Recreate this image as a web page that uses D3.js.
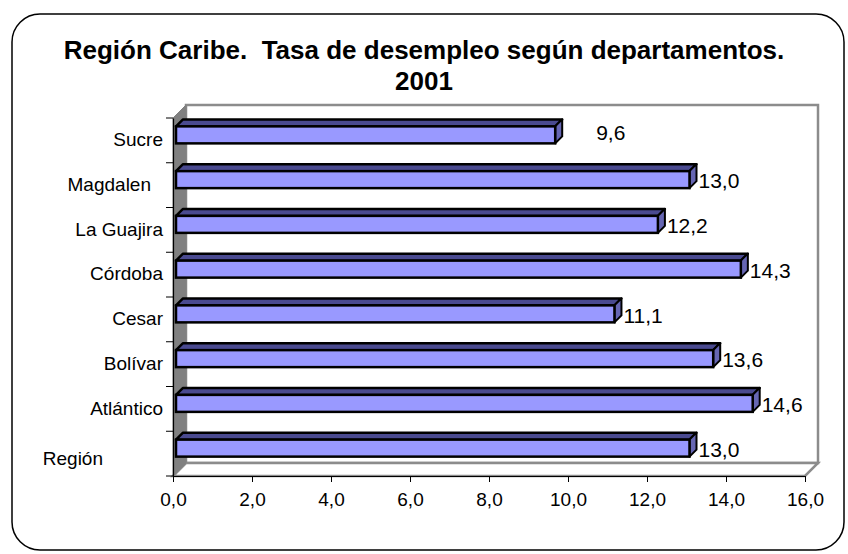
<!DOCTYPE html>
<html>
<head>
<meta charset="utf-8">
<script src="https://cdn.jsdelivr.net/npm/d3@7"></script>
<style>
  body { margin: 0; background: #fff; }
  svg { display: block; font-family: Arial, "Liberation Sans", sans-serif; }
</style>
</head>
<body>
<div id="chart"></div>
<script>
// Data, top to bottom as drawn
const categories = ["Sucre", "Magdalen", "La Guajira", "Córdoba", "Cesar", "Bolívar", "Atlántico", "Región"];
const values = [9.6, 13.0, 12.2, 14.3, 11.1, 13.6, 14.6, 13.0];
const xTicks = [0, 2, 4, 6, 8, 10, 12, 14, 16];
const titleLines = ["Región Caribe.  Tasa de desempleo según departamentos.", "2001"];

const width = 848, height = 554;
const fmt = v => d3.format(".1f")(v).replace(".", ",");

const svg = d3.select("#chart").append("svg")
    .attr("width", width)
    .attr("height", height);

// Outer rounded frame
svg.append("rect")
    .attr("x", 12).attr("y", 14)
    .attr("width", 832).attr("height", 536)
    .attr("rx", 28).attr("ry", 28)
    .attr("fill", "#fff")
    .attr("stroke", "#000")
    .attr("stroke-width", 1.5);

// Title
svg.selectAll("text.title")
    .data(titleLines)
    .join("text")
    .attr("class", "title")
    .attr("x", 424)
    .attr("y", (d, i) => 59 + i * 31)
    .attr("text-anchor", "middle")
    .attr("font-size", 26)
    .attr("font-weight", "bold")
    .style("white-space", "pre")
    .text(d => d);

// Scales (front plane)
const x = d3.scaleLinear().domain([0, 16]).range([173, 805]);
const y = d3.scaleBand().domain(categories).range([118, 476]);
const depth = 13; // 3D offset of back wall

const x0 = x(0), x1 = x(16), y0 = y.range()[0], y1 = y.range()[1];

// Back wall
svg.append("rect")
    .attr("x", x0 + depth).attr("y", y0 - depth)
    .attr("width", x1 - x0).attr("height", y1 - y0)
    .attr("fill", "#fff")
    .attr("stroke", "#8c8c8c")
    .attr("stroke-width", 2.5);

// Floor
svg.append("polygon")
    .attr("points", [[x0, y1], [x0 + depth, y1 - depth], [x1 + depth, y1 - depth], [x1, y1]].join(" "))
    .attr("fill", "#fff")
    .attr("stroke", "#8c8c8c")
    .attr("stroke-width", 2.5);

// Left side wall
svg.append("polygon")
    .attr("points", [[x0, y0], [x0 + depth, y0 - depth], [x0 + depth, y1 - depth], [x0, y1]].join(" "))
    .attr("fill", "#808080")
    .attr("stroke", "#808080")
    .attr("stroke-width", 1);

// Bars
const bd = 7; // bar depth offset
const bars = svg.append("g").attr("class", "bars")
    .selectAll("g")
    .data(categories.map((c, i) => ({ c, v: values[i] })))
    .join("g");

bars.each(function (d) {
    const g = d3.select(this);
    const cy = y(d.c) + y.bandwidth() / 2;
    const top = cy - 14, bot = cy + 3;
    const a = x0 + 3, b = x(d.v) + 3;
    g.append("polygon")
        .attr("points", [[a, top], [a + bd, top - bd], [b + bd, top - bd], [b, top]].join(" "))
        .attr("fill", "#4a4a90")
        .attr("stroke", "#000")
        .attr("stroke-width", 2.5)
        .attr("stroke-linejoin", "round");
    g.append("polygon")
        .attr("points", [[b, top], [b + bd, top - bd], [b + bd, bot - bd], [b, bot]].join(" "))
        .attr("fill", "#6666b3")
        .attr("stroke", "#000")
        .attr("stroke-width", 2)
        .attr("stroke-linejoin", "round");
    g.append("rect")
        .attr("x", a).attr("y", top)
        .attr("width", b - a).attr("height", bot - top)
        .attr("fill", "#9999ff")
        .attr("stroke", "#000")
        .attr("stroke-width", 2.5);
});

// Data labels (first one sits further out, as in the original)
bars.append("text")
    .attr("x", (d, i) => x(d.v) + (i === 0 ? 44 : 12))
    .attr("y", (d, i) => y(d.c) + y.bandwidth() / 2 - (i === 0 ? 8 : 4))
    .attr("dy", "0.35em")
    .attr("font-size", 21)
    .text(d => fmt(d.v));

// Category axis
const yAxis = d3.axisLeft(y).tickSize(0).tickFormat("");
svg.append("g").attr("transform", `translate(${x0},0)`).call(yAxis)
    .select(".domain").attr("stroke", "#000").attr("stroke-width", 1.2);
svg.append("g").selectAll("line")
    .data(d3.range(categories.length + 1))
    .join("line")
    .attr("x1", x0 - 7).attr("x2", x0)
    .attr("y1", i => y0 + i * y.step())
    .attr("y2", i => y0 + i * y.step())
    .attr("stroke", "#000");

// Category labels (Excel-like placement quirks)
const labelShift = { "Magdalen": -12, "Región": -60 };
svg.append("g").selectAll("text")
    .data(categories)
    .join("text")
    .attr("x", d => 163 + (labelShift[d] || 0))
    .attr("y", d => y(d) + y.bandwidth() / 2 - 1 + (d === "Región" ? 6 : 0))
    .attr("dy", "0.35em")
    .attr("text-anchor", "end")
    .attr("font-size", 19)
    .text(d => d);

// Value axis
const xAxis = d3.axisBottom(x).tickValues(xTicks).tickSize(6).tickSizeOuter(0).tickFormat(fmt);
const gx = svg.append("g").attr("transform", `translate(0,${y1})`).call(xAxis);
gx.select(".domain").attr("stroke", "#000").attr("stroke-width", 1.2);
gx.selectAll(".tick line").attr("stroke", "#000");
gx.selectAll(".tick text")
    .attr("font-family", "Arial, 'Liberation Sans', sans-serif")
    .attr("font-size", 19)
    .attr("fill", "#000")
    .attr("y", 30)
    .attr("dy", 0);
</script>
</body>
</html>
